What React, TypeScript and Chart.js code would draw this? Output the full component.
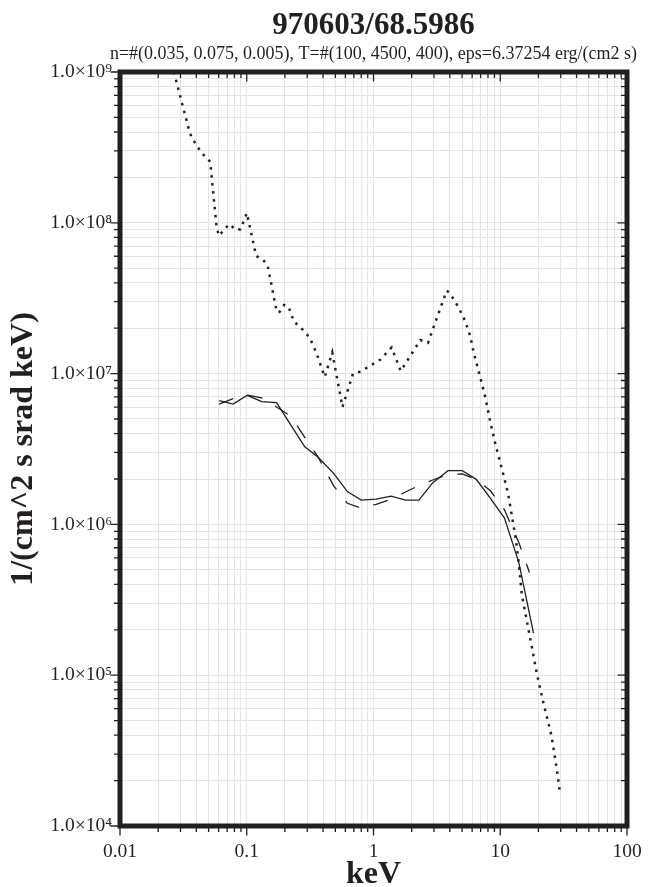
import React, { useEffect, useRef } from "react";
import { Chart, registerables } from "chart.js";

Chart.register(...registerables);

const TITLE = "970603/68.5986";
const SUBTITLE = "n=#(0.035, 0.075, 0.005), T=#(100, 4500, 400), eps=6.37254 erg/(cm2 s)";
const X_TITLE = "keV";
const Y_TITLE = "1/(cm^2 s srad keV)";

const X_MAJOR = [0.01, 0.1, 1, 10, 100];
const X_LABELS = ["0.01", "0.1", "1", "10", "100"];
const Y_MAJOR = [1e4, 1e5, 1e6, 1e7, 1e8, 1e9];
const Y_LABELS = ["1.0×10⁴", "1.0×10⁵", "1.0×10⁶", "1.0×10⁷", "1.0×10⁸", "1.0×10⁹"];
const MINOR_MULT = [2, 3, 4, 5, 6, 7, 8, 9];

// dotted series
const DOT_E = [0.0266, 0.028, 0.0356, 0.0395, 0.043, 0.047, 0.0515, 0.0577, 0.0603, 0.0671, 0.073, 0.082, 0.0893, 0.1002, 0.1186, 0.1347, 0.146, 0.1726, 0.182, 0.197, 0.2135, 0.236, 0.263, 0.314, 0.356, 0.412, 0.473, 0.569, 0.689, 0.789, 1.133, 1.39, 1.64, 2.34, 2.69, 3.78, 3.98, 4.67, 5.3, 5.8, 6.16, 6.87, 7.66, 8.34, 9.23, 10.3, 11.5, 12.4, 13.3, 14.0, 14.8, 17.0, 19.4, 22.1, 25.4, 27.8, 29.5];
const DOT_F = [1.0e9, 8.5e8, 3.92e8, 3.33e8, 3.0e8, 2.74e8, 2.54e8, 9.5e7, 8.2e7, 9.1e7, 9.8e7, 8.96e7, 9.06e7, 1.16e8, 6.03e7, 5.67e7, 5.23e7, 2.56e7, 2.57e7, 2.85e7, 2.78e7, 2.2e7, 2.05e7, 1.73e7, 1.36e7, 9.5e6, 1.38e7, 6.0e6, 1.0e7, 1.03e7, 1.24e7, 1.49e7, 1.04e7, 1.67e7, 1.6e7, 3.55e7, 3.44e7, 2.77e7, 2.22e7, 1.77e7, 1.39e7, 9.8e6, 6.86e6, 4.78e6, 3.31e6, 2.34e6, 1.62e6, 1.12e6, 7.9e5, 5.52e5, 3.4e5, 1.87e5, 1.03e5, 6.34e4, 3.95e4, 2.44e4, 1.69e4];

// solid series
const SOLID_E = [0.0606, 0.078, 0.101, 0.131, 0.172, 0.223, 0.287, 0.366, 0.485, 0.622, 0.8, 1.05, 1.38, 1.79, 2.28, 2.94, 3.87, 5.01, 6.47, 8.37, 10.8, 14.0, 18.3];
const SOLID_F = [6.61e6, 6.28e6, 7.18e6, 6.52e6, 6.41e6, 4.56e6, 3.27e6, 2.79e6, 2.18e6, 1.65e6, 1.45e6, 1.47e6, 1.54e6, 1.45e6, 1.45e6, 1.89e6, 2.27e6, 2.27e6, 1.99e6, 1.49e6, 1.1e6, 5.6e5, 1.9e5];

// dashed series
const DASH_E = [0.0606, 0.078, 0.101, 0.131, 0.172, 0.223, 0.287, 0.366, 0.485, 0.622, 0.8, 1.05, 1.38, 1.79, 2.28, 2.94, 3.87, 5.01, 6.47, 8.37, 10.8, 14.0, 17.0];
const DASH_F = [6.28e6, 6.83e6, 7.2e6, 6.9e6, 6.0e6, 5.2e6, 3.78e6, 2.79e6, 1.8e6, 1.38e6, 1.28e6, 1.36e6, 1.47e6, 1.64e6, 1.81e6, 1.97e6, 2.14e6, 2.16e6, 1.99e6, 1.67e6, 1.25e6, 7.6e5, 4.8e5];

const FONT = "'Liberation Serif', 'Times New Roman', serif";
const INK = "#231f20";
const GRID = "#e4e4e4";

function allTicks(majors: number[]) {
  const out: { value: number; major: boolean }[] = [];
  for (let i = 0; i < majors.length; i++) {
    out.push({ value: majors[i], major: true });
    if (i < majors.length - 1) {
      for (const m of MINOR_MULT) out.push({ value: m * majors[i], major: false });
    }
  }
  return out;
}

function labelFor(v: number, majors: number[], labels: string[]) {
  const i = majors.findIndex((m) => Math.abs(Math.log10(m) - Math.log10(v)) < 1e-6);
  return i >= 0 ? labels[i] : "";
}

function isMajor(v: number, majors: number[]) {
  return majors.some((m) => Math.abs(Math.log10(m) - Math.log10(v)) < 1e-6);
}

const framePlugin = {
  id: "frame",
  afterDatasetsDraw(chart: any) {
    const { ctx, chartArea: a, scales } = chart;
    const xs = scales.x;
    const ys = scales.y;
    ctx.save();
    ctx.strokeStyle = INK;
    ctx.lineWidth = 1.3;
    const half = 2.5;
    for (const t of xs.ticks) {
      const px = xs.getPixelForValue(t.value);
      const L = isMajor(t.value, X_MAJOR) ? 7 : 3.5;
      ctx.beginPath();
      ctx.moveTo(px, a.bottom);
      ctx.lineTo(px, a.bottom + half + L);
      ctx.moveTo(px, a.top);
      ctx.lineTo(px, a.top + half + L);
      ctx.stroke();
    }
    for (const t of ys.ticks) {
      const py = ys.getPixelForValue(t.value);
      const L = isMajor(t.value, Y_MAJOR) ? 7 : 3.5;
      ctx.beginPath();
      ctx.moveTo(a.left, py);
      ctx.lineTo(a.left - half - L, py);
      ctx.moveTo(a.right, py);
      ctx.lineTo(a.right - half - L, py);
      ctx.stroke();
    }
    ctx.lineWidth = 5;
    ctx.strokeRect(a.left, a.top, a.right - a.left, a.bottom - a.top);
    ctx.restore();
  },
};

export default function App() {
  const ref = useRef<HTMLCanvasElement>(null);

  useEffect(() => {
    if (!ref.current) return;
    const toPts = (E: number[], F: number[]) => E.map((e, i) => ({ x: e, y: F[i] }));
    const chart = new Chart(ref.current, {
      type: "line",
      data: {
        datasets: [
          {
            label: "dotted",
            data: toPts(DOT_E, DOT_F),
            borderColor: INK,
            borderWidth: 2.5,
            borderDash: [2.5, 5.5],
            pointRadius: 0,
            tension: 0,
            fill: false,
          },
          {
            label: "solid",
            data: toPts(SOLID_E, SOLID_F),
            borderColor: INK,
            borderWidth: 1.3,
            pointRadius: 0,
            tension: 0,
            fill: false,
          },
          {
            label: "dashed",
            data: toPts(DASH_E, DASH_F),
            borderColor: INK,
            borderWidth: 1.3,
            borderDash: [15, 15],
            pointRadius: 0,
            tension: 0,
            fill: false,
          },
        ],
      },
      options: {
        responsive: false,
        animation: false,
        devicePixelRatio: 1,
        layout: { padding: { left: 0, right: 0, top: 0, bottom: 0 } },
        plugins: {
          legend: { display: false },
          tooltip: { enabled: false },
          title: {
            display: true,
            text: TITLE,
            color: INK,
            font: { family: FONT, size: 31, weight: "bold", lineHeight: 1 },
            padding: { top: 10, bottom: 0 },
          },
          subtitle: {
            display: true,
            text: SUBTITLE,
            color: INK,
            font: { family: FONT, size: 18, lineHeight: 1 },
            padding: { top: 4.5, bottom: 8.5 },
          },
        },
        scales: {
          x: {
            type: "logarithmic",
            position: "bottom",
            min: 0.01,
            max: 100,
            afterBuildTicks: (s: any) => {
              s.ticks = allTicks(X_MAJOR);
            },
            afterFit: (s: any) => {
              s.height = 61;
            },
            grid: { color: GRID, lineWidth: 1, drawTicks: false },
            border: { display: false },
            ticks: {
              autoSkip: false,
              maxRotation: 0,
              padding: 14,
              color: INK,
              font: { family: FONT, size: 19.5 },
              callback: (v: any) => labelFor(Number(v), X_MAJOR, X_LABELS),
            },
            title: {
              display: true,
              text: X_TITLE,
              color: INK,
              font: { family: FONT, size: 32, weight: "bold", lineHeight: 0.75 },
              padding: { top: 0, bottom: 0 },
            },
          },
          y: {
            type: "logarithmic",
            position: "left",
            min: 1e4,
            max: 1e9,
            afterBuildTicks: (s: any) => {
              s.ticks = allTicks(Y_MAJOR);
            },
            afterFit: (s: any) => {
              s.width = 120;
            },
            grid: { color: GRID, lineWidth: 1, drawTicks: false },
            border: { display: false },
            ticks: {
              autoSkip: false,
              padding: 8,
              color: INK,
              font: { family: FONT, size: 19.5 },
              callback: (v: any) => labelFor(Number(v), Y_MAJOR, Y_LABELS),
            },
            title: {
              display: true,
              text: Y_TITLE,
              color: INK,
              font: { family: FONT, size: 32, weight: "bold", lineHeight: 1.2 },
              padding: { top: 5, bottom: 0 },
            },
          },
          y2: {
            type: "linear",
            position: "right",
            min: 0,
            max: 1,
            afterFit: (s: any) => {
              s.width = 120;
            },
            grid: { display: false, drawTicks: false },
            border: { display: false },
            ticks: { display: false },
          },
        },
      },
      plugins: [framePlugin],
    } as any);
    return () => chart.destroy();
  }, []);

  return (
    <div
      style={{
        position: "fixed",
        left: 0,
        top: 0,
        width: 661,
        height: 887,
        overflow: "hidden",
        background: "#fff",
      }}
    >
      <canvas ref={ref} width={747} height={887} style={{ display: "block", width: 747, height: 887 }} />
    </div>
  );
}
